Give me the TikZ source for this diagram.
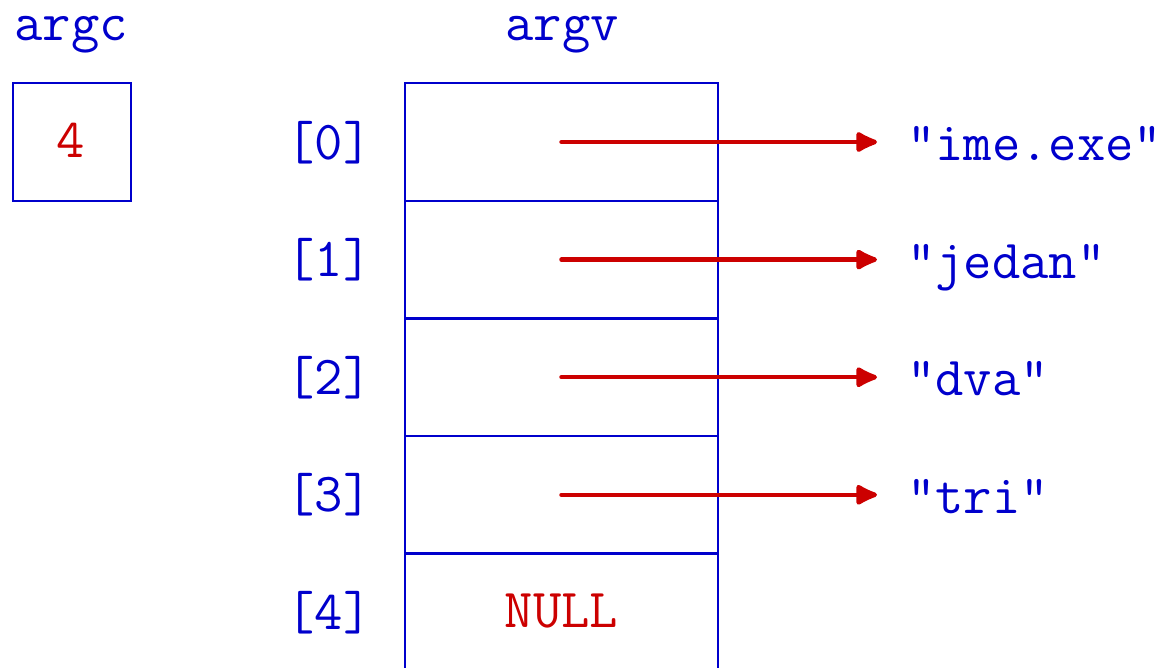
\documentclass[tikz,border=0pt]{standalone}
\usetikzlibrary{arrows.meta}
\definecolor{myblue}{RGB}{0,0,204}
\definecolor{myred}{RGB}{204,0,0}
\begin{document}
\begin{tikzpicture}[x=1pt,y=1pt,
  every node/.style={font=\fontsize{55}{60}\selectfont\ttfamily},
  lbl/.style={text=myblue,inner sep=0pt,anchor=base},
  cellbox/.style={draw=myblue,line width=2.5pt,minimum width=313pt,minimum height=117.6pt,inner sep=0pt,outer sep=0pt},
  valtxt/.style={text=myred,inner sep=0pt,anchor=base},
  strtxt/.style={text=myblue,inner sep=0pt,anchor=base west},
  ptr/.style={draw=myred,line width=4.5pt,line cap=round,-{Latex[length=26pt,width=24pt,round]},shorten >=30pt}
]
\useasboundingbox (0,0) rectangle (1167,-667);
% argc
\node[lbl] (argcl) at (71,-40) {argc};
\node[cellbox,minimum width=118pt,minimum height=118pt] (argcbox) at (72,-142) {};
\node[valtxt] (four) at (71,-157) {4};
% argv
\node[lbl] (argvl) at (562,-40) {argv};
\foreach \i/\yc in {0/142,1/259.6,2/377.2,3/494.8,4/612.4}{
  \node[cellbox] (c\i) at (561.5,-\yc) {};
  \node[lbl] (idx\i) at (329,-\yc-17) {[\i]};
}
\node[valtxt] (null) at (561.5,-627) {NULL};
% strings
\node[strtxt] (s0) at (907,-160) {"ime.exe"};
\node[strtxt] (s1) at (907,-278) {"jedan"};
\node[strtxt] (s2) at (907,-395) {"dva"};
\node[strtxt] (s3) at (907,-513) {"tri"};
\foreach \i in {0,1,2,3}{
  \draw[ptr] (c\i.center) -- (c\i.center -| s\i.west);
}
\end{tikzpicture}
\end{document}
